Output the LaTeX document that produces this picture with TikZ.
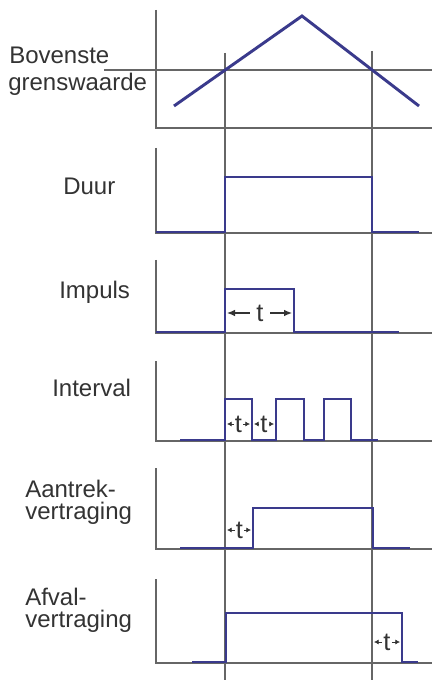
\documentclass[tikz,border=0pt]{standalone}
\usepackage{fontspec}
\setmainfont{Liberation Sans}
\usetikzlibrary{arrows.meta}
\definecolor{sig}{HTML}{3A3A8C}
\definecolor{axc}{HTML}{666666}
\definecolor{txt}{HTML}{333333}
\begin{document}
\begin{tikzpicture}[x=0.75pt,y=-0.75pt,
  axis/.style={draw=axc,line width=0.9pt},
  sigline/.style={draw=sig,line width=2.2pt,line join=miter},
  lbl/.style={font=\fontsize{18}{20}\selectfont,text=txt,inner sep=0pt,anchor=base west},
  tl/.style={font=\fontsize{19}{20}\selectfont,text=txt,fill=white,inner sep=0.8pt},
  tarrow/.style={draw=txt,line width=0.9pt,-{Latex[length=6pt,width=5pt]}},
  tsmall/.style={draw=txt,line width=0.6pt,-{Latex[length=3.5pt,width=3.8pt]}}]
\useasboundingbox[fill=white] (0,0) rectangle (432,680);

% guide lines
\draw[axis] (225,53) -- (225,680);
\draw[axis] (372,51) -- (372,680);

% panel 1
\draw[axis] (156,10) -- (156,128) -- (432,128);
\draw[axis] (104,70) -- (432,70);
\draw[sigline,line join=miter] (174,106) -- (302,16) -- (419,106);
\node[lbl] (l1a) at (9,64) {Bovenste};
\node[lbl] (l1b) at (8,91) {grenswaarde};

% panel 2
\draw[axis] (156,148) -- (156,233) -- (432,233);
\draw[sigline] (156,232) -- (225,232) -- (225,177) -- (372,177) -- (372,232) -- (419,232);
\node[lbl] (l2) at (63,195) {Duur};

% panel 3
\draw[axis] (156,260) -- (156,333) -- (432,333);
\draw[sigline] (156,332) -- (225,332) -- (225,289) -- (294,289) -- (294,332) -- (399,332);
\node[lbl] (l3) at (59,298) {Impuls};
\node[tl,inner sep=5pt] (t3) at (260,313) {t};
\draw[tarrow] (t3.west) -- (227,313);
\draw[tarrow] (t3.east) -- (292,313);

% panel 4
\draw[axis] (156,361) -- (156,441) -- (432,441);
\draw[sigline] (180,440) -- (225,440) -- (225,399) -- (252,399) -- (252,440) -- (276,440) -- (276,399) -- (304,399) -- (304,440) -- (324,440) -- (324,399) -- (351,399) -- (351,440) -- (378,440);
\node[lbl] (l4) at (52,396) {Interval};
\node[tl] (t4a) at (238.5,424) {t};
\node[tl] (t4b) at (264,424) {t};
\draw[tsmall] (t4a.west) -- (227,424);
\draw[tsmall] (t4a.east) -- (250,424);
\draw[tsmall] (t4b.west) -- (254,424);
\draw[tsmall] (t4b.east) -- (274,424);

% panel 5
\draw[axis] (156,468) -- (156,549) -- (432,549);
\draw[sigline] (180,548) -- (253,548) -- (253,508) -- (373,508) -- (373,548) -- (410,548);
\node[lbl] (l5a) at (25,497) {Aantrek-};
\node[lbl] (l5b) at (25,519) {vertraging};
\node[tl] (t5) at (239.5,530) {t};
\draw[tsmall] (t5.west) -- (227,530);
\draw[tsmall] (t5.east) -- (251,530);

% panel 6
\draw[axis] (156,579) -- (156,663) -- (432,663);
\draw[sigline] (192,662) -- (226,662) -- (226,613) -- (402,613) -- (402,662) -- (418,662);
\node[lbl] (l6a) at (25,605) {Afval-};
\node[lbl] (l6b) at (25,627) {vertraging};
\node[tl] (t6) at (387,642) {t};
\draw[tsmall] (t6.west) -- (374,642);
\draw[tsmall] (t6.east) -- (400,642);
\end{tikzpicture}
\end{document}
